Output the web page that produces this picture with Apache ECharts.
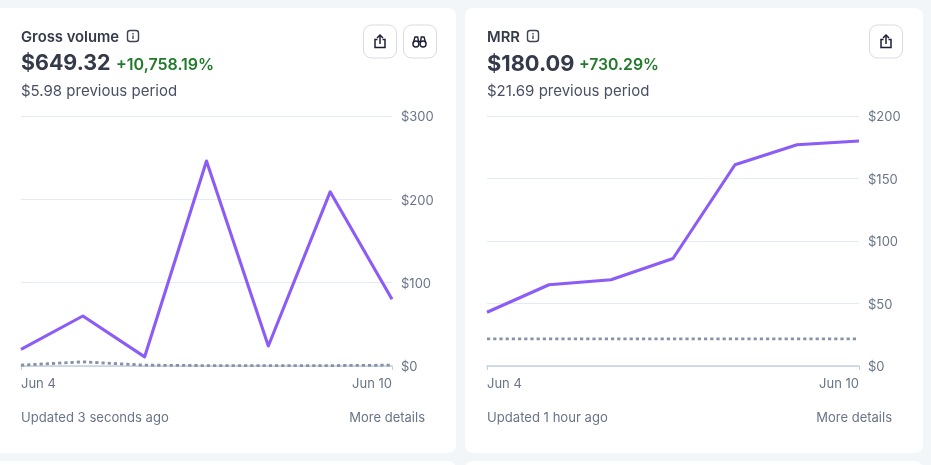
<!DOCTYPE html>
<html><head><meta charset="utf-8">
<script src="https://cdn.jsdelivr.net/npm/echarts@6/dist/echarts.min.js"></script>
<style>html,body{margin:0;padding:0;background:#f3f6f9;overflow:hidden}#c{width:931px;height:465px}</style>
</head><body><div id="c"></div>
<script>
const days = ['Jun 4','Jun 5','Jun 6','Jun 7','Jun 8','Jun 9','Jun 10'];
const grossCurrent = [20,60,11,246,24,209,80];
const grossPrevious = [1,5,1,0.5,0.5,0.5,1];
const mrrCurrent = [43,65,69,86,161,177,180];
const mrrPrevious = [21.69,21.69,21.69,21.69,21.69,21.69,21.69];
const FONT = 'Inter, "Noto Sans", sans-serif';
const INK='#353a4a', MUTED='#6a7488', SUB='#4a5063', GREEN='#217a2b';
const LINE='#8b5cf6', PREV='#8792a8', GRIDC='#e3ecf4', AXISC='#c4d0de';

function txt(x,y,text,size,weight,fill,align){
  return {type:'text',x,y,silent:true,style:{text,font:`${weight} ${size}px ${FONT}`,fill,textAlign:align||'left',textVerticalAlign:'middle'}};
}
function card(x,y,w,h){return {type:'rect',shape:{x,y,width:w,height:h,r:8},style:{fill:'#fff'},z:-10,silent:true};}
function btn(x){return {type:'rect',shape:{x,y:25,width:33,height:33,r:8},style:{fill:'#fff',stroke:'#d5dbe3',lineWidth:1},silent:true};}
const stroke=(w)=>({fill:null,stroke:'#1a1f36',lineWidth:w});
function poly(cx,cy,pts,w){return {type:'polyline',silent:true,z:5,shape:{points:pts.map(p=>[cx+p[0],cy+p[1]])},style:stroke(w)};}
function shareIcon(cx){const cy=41.5;return [
  poly(cx,cy,[[-2.5,-2],[-5,-2],[-5,6],[5,6],[5,-2],[2.5,-2]],1.5),
  poly(cx,cy,[[0,2.5],[0,-6]],1.5),
  poly(cx,cy,[[-3,-3.5],[0,-6.5],[3,-3.5]],1.5)];}
function binoIcon(cx){const cy=41.5;return [
  {type:'circle',silent:true,z:5,shape:{cx:cx-3.6,cy:cy+2.5,r:3},style:stroke(1.4)},
  {type:'circle',silent:true,z:5,shape:{cx:cx+3.6,cy:cy+2.5,r:3},style:stroke(1.4)},
  poly(cx,cy,[[-6.2,1.5],[-4.5,-4.5],[-1.8,-4.5],[-1,0],[1,0],[1.8,-4.5],[4.5,-4.5],[6.2,1.5]],1.4)];}
function infoIcon(cx){return [
  {type:'rect',shape:{x:cx-5.5,y:30.5,width:11,height:11,r:2.5},style:{fill:null,stroke:'#414552',lineWidth:1.4},silent:true},
  {type:'rect',shape:{x:cx-0.7,y:35.4,width:1.4,height:3.6},style:{fill:'#414552'},silent:true},
  {type:'rect',shape:{x:cx-0.7,y:33,width:1.4,height:1.4},style:{fill:'#414552'},silent:true}];}

function grid(left,right){return {left,right:931-right,top:116,bottom:465-366,containLabel:false};}
function xAxis(i){return {type:'category',gridIndex:i,data:days,boundaryGap:false,
  axisLine:{show:true,onZero:false,lineStyle:{color:AXISC,width:1.5}},
  axisTick:{show:true,inside:false,length:4,interval:(n)=>n===0||n===6,lineStyle:{color:AXISC}},
  axisLabel:{interval:(n)=>n===0||n===6,margin:12,color:MUTED,fontSize:13,fontFamily:FONT,alignMinLabel:'left',alignMaxLabel:'right'},
  splitLine:{show:false}};}
function yAxis(i,max,interval){return {type:'value',gridIndex:i,position:'right',min:0,max,interval,
  axisLine:{show:false},axisTick:{show:false},
  axisLabel:{margin:9,color:MUTED,fontSize:13,fontFamily:FONT,formatter:(v)=>`{a|$${v}}`,
    rich:{a:{color:MUTED,fontSize:13,fontFamily:FONT,padding:[3,0,0,0]}}},
  splitLine:{show:true,lineStyle:{color:GRIDC,width:1}}};}
function lineS(i,data,color,width,dash,z){return {type:'line',xAxisIndex:i,yAxisIndex:i,data,symbol:'none',smooth:false,z,clip:false,animation:false,
  lineStyle:{color,width,type:dash?[3.2,3]:'solid',join:'round'}};}

const chart = echarts.init(document.getElementById('c'),null,{renderer:'canvas'});
chart.setOption({
  animation:false,backgroundColor:'#f3f6f9',
  grid:[grid(21,392),grid(487,859)],
  xAxis:[xAxis(0),xAxis(1)],
  yAxis:[yAxis(0,300,100),yAxis(1,200,50)],
  series:[
    lineS(0,grossPrevious,PREV,2.8,true,3),
    lineS(0,grossCurrent,LINE,3.1,false,4),
    lineS(1,mrrPrevious,PREV,2.8,true,3),
    lineS(1,mrrCurrent,LINE,3.1,false,4)
  ],
  graphic:[
    card(-8,8,464,445),card(465,8,458,445),card(-8,461,464,20),card(465,461,458,20),
    txt(21,37.5,'Gross volume',14.8,600,INK),...infoIcon(133),
    txt(21,64,'$649.32',21.4,700,INK),txt(116,65.5,'+10,758.19%',16,600,GREEN),
    txt(21,91,'$5.98 previous period',15,400,SUB),
    btn(363.5),...shareIcon(380),btn(403.5),...binoIcon(419.5),
    txt(21,418.5,'Updated 3 seconds ago',13.1,400,MUTED),txt(425,418.5,'More details',13,400,MUTED,'right'),
    txt(487,37.5,'MRR',14.8,600,INK),...infoIcon(533),
    txt(487,64,'$180.09',21.8,700,INK),txt(579,65.5,'+730.29%',15.8,600,GREEN),
    txt(487,91,'$21.69 previous period',15,400,SUB),
    btn(869.5),...shareIcon(886),
    txt(487,418.5,'Updated 1 hour ago',13.1,400,MUTED),txt(892,418.5,'More details',13,400,MUTED,'right')
  ]
});
</script></body></html>
